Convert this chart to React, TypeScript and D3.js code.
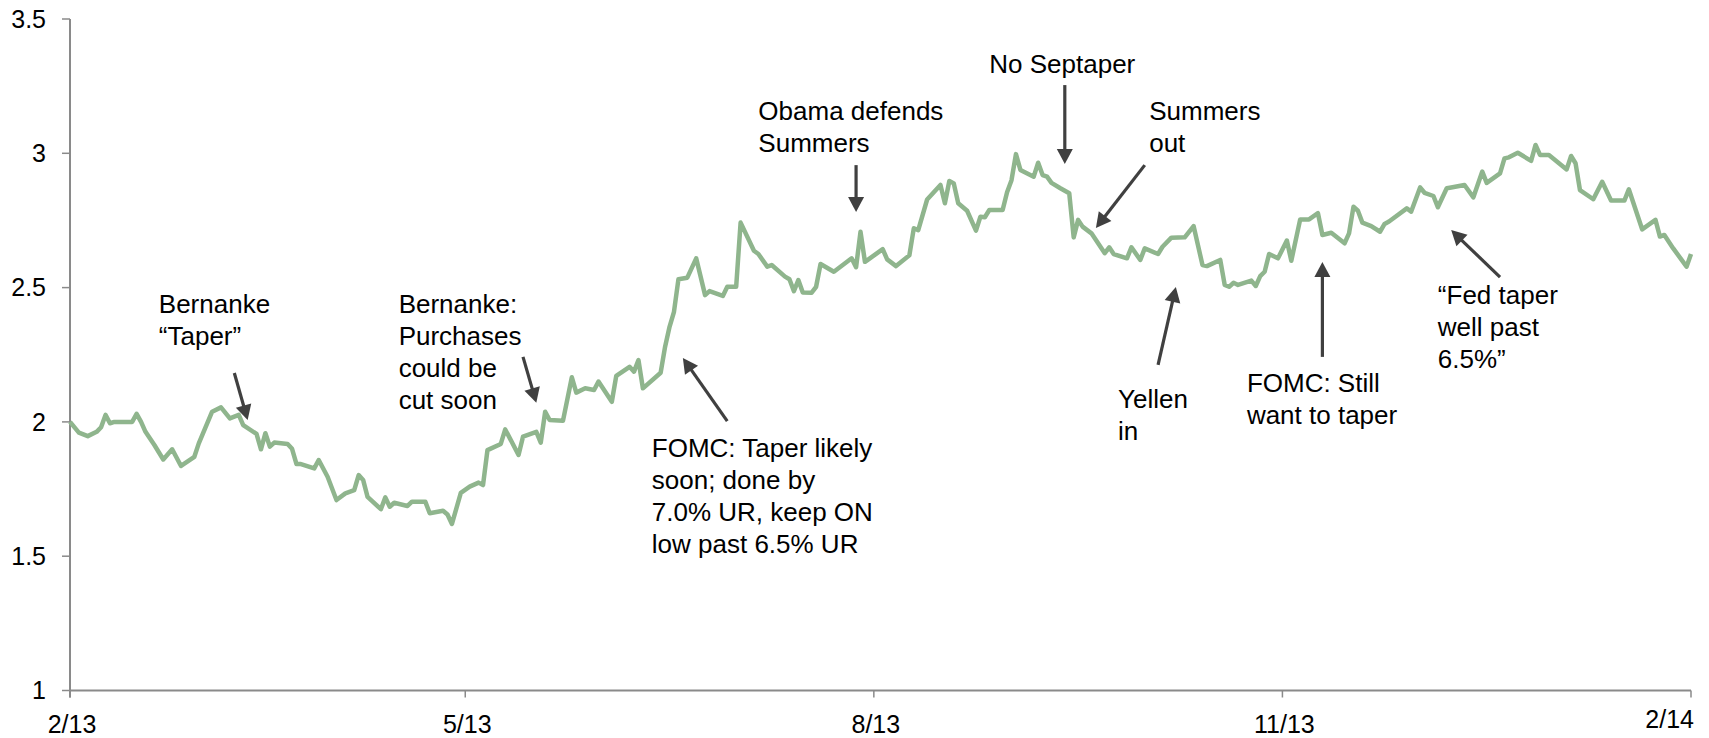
import * as d3 from "d3";
import React, { useEffect, useRef } from "react";

// 10-year yield
const dates = [
  "2013-02-01", "2013-02-03", "2013-02-05", "2013-02-07", "2013-02-08", "2013-02-09", "2013-02-10", "2013-02-11",
  "2013-02-15", "2013-02-16", "2013-02-17", "2013-02-18", "2013-02-20", "2013-02-22", "2013-02-24", "2013-02-26",
  "2013-03-01", "2013-03-02", "2013-03-05", "2013-03-07", "2013-03-09", "2013-03-11", "2013-03-12", "2013-03-15",
  "2013-03-16", "2013-03-17", "2013-03-18", "2013-03-19", "2013-03-22", "2013-03-23", "2013-03-24", "2013-03-25",
  "2013-03-28", "2013-03-29", "2013-03-31", "2013-04-02", "2013-04-04", "2013-04-06", "2013-04-07", "2013-04-08",
  "2013-04-09", "2013-04-12", "2013-04-13", "2013-04-14", "2013-04-15", "2013-04-18", "2013-04-19", "2013-04-22",
  "2013-04-23", "2013-04-26", "2013-04-27", "2013-04-28", "2013-04-30", "2013-05-02", "2013-05-04", "2013-05-05",
  "2013-05-06", "2013-05-09", "2013-05-10", "2013-05-13", "2013-05-14", "2013-05-17", "2013-05-18", "2013-05-19",
  "2013-05-20", "2013-05-23", "2013-05-25", "2013-05-26", "2013-05-28", "2013-05-30", "2013-05-31", "2013-06-03",
  "2013-06-04", "2013-06-07", "2013-06-08", "2013-06-09", "2013-06-10", "2013-06-14", "2013-06-15", "2013-06-16",
  "2013-06-17", "2013-06-18", "2013-06-20", "2013-06-22", "2013-06-24", "2013-06-25", "2013-06-28", "2013-06-29",
  "2013-07-01", "2013-07-02", "2013-07-05", "2013-07-06", "2013-07-08", "2013-07-09", "2013-07-12", "2013-07-13",
  "2013-07-14", "2013-07-15", "2013-07-16", "2013-07-18", "2013-07-19", "2013-07-20", "2013-07-23", "2013-07-27",
  "2013-07-28", "2013-07-29", "2013-07-30", "2013-08-03", "2013-08-04", "2013-08-06", "2013-08-09", "2013-08-10",
  "2013-08-11", "2013-08-13", "2013-08-16", "2013-08-17", "2013-08-18", "2013-08-19", "2013-08-20", "2013-08-22",
  "2013-08-24", "2013-08-25", "2013-08-26", "2013-08-27", "2013-08-30", "2013-08-31", "2013-09-01", "2013-09-02",
  "2013-09-03", "2013-09-06", "2013-09-07", "2013-09-08", "2013-09-09", "2013-09-10", "2013-09-12", "2013-09-14",
  "2013-09-15", "2013-09-16", "2013-09-17", "2013-09-19", "2013-09-22", "2013-09-23", "2013-09-24", "2013-09-27",
  "2013-09-28", "2013-09-30", "2013-10-01", "2013-10-04", "2013-10-05", "2013-10-07", "2013-10-10", "2013-10-12",
  "2013-10-14", "2013-10-15", "2013-10-18", "2013-10-19", "2013-10-20", "2013-10-21", "2013-10-22", "2013-10-25",
  "2013-10-26", "2013-10-27", "2013-10-28", "2013-10-29", "2013-10-31", "2013-11-02", "2013-11-03", "2013-11-05",
  "2013-11-07", "2013-11-09", "2013-11-10", "2013-11-12", "2013-11-15", "2013-11-16", "2013-11-17", "2013-11-18",
  "2013-11-19", "2013-11-21", "2013-11-23", "2013-11-24", "2013-11-25", "2013-11-29", "2013-11-30", "2013-12-02",
  "2013-12-03", "2013-12-05", "2013-12-06", "2013-12-08", "2013-12-09", "2013-12-12", "2013-12-14", "2013-12-16",
  "2013-12-17", "2013-12-20", "2013-12-21", "2013-12-22", "2013-12-24", "2013-12-27", "2013-12-28", "2013-12-29",
  "2013-12-31", "2014-01-04", "2014-01-05", "2014-01-06", "2014-01-07", "2014-01-10", "2014-01-12", "2014-01-14",
  "2014-01-17", "2014-01-18", "2014-01-21", "2014-01-24", "2014-01-25", "2014-01-26", "2014-01-28", "2014-01-31",
  "2014-02-01",
];

const yields = [
  2.0, 1.96, 1.947, 1.963, 1.98, 2.026, 1.995, 2.0,
  2.0, 2.03, 2.0, 1.963, 1.914, 1.86, 1.898, 1.836,
  1.87, 1.92, 2.038, 2.054, 2.013, 2.026, 1.988, 1.955,
  1.898, 1.958, 1.908, 1.923, 1.918, 1.9, 1.843, 1.843,
  1.827, 1.858, 1.796, 1.709, 1.734, 1.746, 1.802, 1.784,
  1.721, 1.675, 1.719, 1.684, 1.699, 1.687, 1.703, 1.703,
  1.66, 1.669, 1.655, 1.62, 1.736, 1.759, 1.774, 1.765,
  1.895, 1.918, 1.972, 1.877, 1.945, 1.963, 1.923, 2.038,
  2.007, 2.004, 2.166, 2.109, 2.125, 2.119, 2.15, 2.075,
  2.171, 2.205, 2.187, 2.23, 2.125, 2.183, 2.28, 2.354,
  2.41, 2.531, 2.537, 2.609, 2.472, 2.487, 2.469, 2.503,
  2.503, 2.742, 2.637, 2.625, 2.578, 2.584, 2.541, 2.531,
  2.487, 2.528, 2.482, 2.481, 2.503, 2.588, 2.559, 2.609,
  2.576, 2.708, 2.596, 2.643, 2.605, 2.58, 2.62, 2.721,
  2.714, 2.828, 2.882, 2.814, 2.897, 2.888, 2.814, 2.786,
  2.712, 2.764, 2.762, 2.789, 2.789, 2.855, 2.9, 2.997,
  2.938, 2.913, 2.965, 2.919, 2.913, 2.89, 2.87, 2.851,
  2.687, 2.752, 2.727, 2.702, 2.628, 2.65, 2.625, 2.609,
  2.65, 2.603, 2.646, 2.625, 2.652, 2.686, 2.687, 2.729,
  2.584, 2.58, 2.603, 2.51, 2.503, 2.518, 2.51, 2.526,
  2.506, 2.543, 2.559, 2.625, 2.609, 2.675, 2.6, 2.754,
  2.754, 2.777, 2.696, 2.704, 2.665, 2.702, 2.801, 2.786,
  2.742, 2.729, 2.708, 2.737, 2.746, 2.795, 2.783, 2.873,
  2.853, 2.841, 2.799, 2.87, 2.873, 2.882, 2.836, 2.932,
  2.89, 2.925, 2.981, 2.985, 3.002, 2.972, 3.031, 2.994,
  2.994, 2.94, 2.99, 2.963, 2.863, 2.829, 2.894, 2.824,
  2.824, 2.866, 2.717, 2.752, 2.69, 2.696, 2.646, 2.578,
  2.625,
];

const xTickDates = ["2013-02-01", "2013-05-01", "2013-08-01", "2013-11-01", "2014-02-01"];
const yTicks = [1, 1.5, 2, 2.5, 3, 3.5];

// annotations: text lines, where the text starts, and arrow tail -> tip (date, yield)
interface Note {
  lines: string[];
  at: [string, number];
  from: [string, number];
  to: [string, number];
}

const notes: Note[] = [
  { lines: ["Bernanke", "\u201cTaper\u201d"], at: ["2013-02-21", 2.405], from: ["2013-03-10", 2.182], to: ["2013-03-13", 2.007] },
  { lines: ["Bernanke:", "Purchases", "could be", "cut soon"], at: ["2013-04-16", 2.405], from: ["2013-05-14", 2.242], to: ["2013-05-17", 2.071] },
  { lines: ["FOMC: Taper likely", "soon; done by", "7.0% UR, keep ON", "low past 6.5% UR"], at: ["2013-06-12", 1.869], from: ["2013-06-29", 2.003], to: ["2013-06-19", 2.238] },
  { lines: ["Obama defends", "Summers"], at: ["2013-07-06", 3.124], from: ["2013-07-28", 2.956], to: ["2013-07-28", 2.781] },
  { lines: ["No Septaper"], at: ["2013-08-27", 3.299], from: ["2013-09-13", 3.254], to: ["2013-09-13", 2.96] },
  { lines: ["Summers", "out"], at: ["2013-10-02", 3.124], from: ["2013-10-01", 2.956], to: ["2013-09-20", 2.722] },
  { lines: ["Yellen", "in"], at: ["2013-09-25", 2.051], from: ["2013-10-04", 2.212], to: ["2013-10-08", 2.502] },
  { lines: ["FOMC: Still", "want to taper"], at: ["2013-10-24", 2.111], from: ["2013-11-10", 2.242], to: ["2013-11-10", 2.595] },
  { lines: ["\u201cFed taper", "well past", "6.5%\u201d"], at: ["2013-12-06", 2.439], from: ["2013-12-20", 2.539], to: ["2013-12-09", 2.714] },
];

const App: React.FC = () => {
  const ref = useRef<SVGSVGElement>(null);

  useEffect(() => {
    const width = 1709;
    const height = 738;
    const font = "Arial, 'Liberation Sans', Helvetica, sans-serif";
    const axisColor = "#8a8a8a";
    const arrowColor = "#404040";

    const parse = d3.timeParse("%Y-%m-%d");
    const fmt = d3.timeFormat("%-m/%y");

    const svg = d3.select(ref.current);
    svg.selectAll("*").remove();
    svg.attr("width", width).attr("height", height);

    const x = d3.scaleTime()
      .domain([parse("2013-02-01")!, parse("2014-02-01")!])
      .range([70, 1691]);

    const y = d3.scaleLinear()
      .domain([1, 3.5])
      .range([690.5, 19]);

    // y axis
    svg.append("line")
      .attr("x1", x.range()[0]).attr("x2", x.range()[0])
      .attr("y1", y(3.5)).attr("y2", y(1) + 7)
      .attr("stroke", axisColor).attr("stroke-width", 2);

    yTicks.forEach((t) => {
      svg.append("line")
        .attr("x1", x.range()[0] - 8).attr("x2", x.range()[0])
        .attr("y1", y(t)).attr("y2", y(t))
        .attr("stroke", axisColor).attr("stroke-width", 1.5);
      svg.append("text")
        .attr("x", 46)
        .attr("y", y(t))
        .attr("dy", "0.35em")
        .attr("text-anchor", "end")
        .style("font-family", font)
        .style("font-size", "25px")
        .attr("fill", "#000")
        .text(String(t));
    });

    // x axis
    svg.append("line")
      .attr("x1", x.range()[0]).attr("x2", x.range()[1])
      .attr("y1", y(1)).attr("y2", y(1))
      .attr("stroke", axisColor).attr("stroke-width", 2);

    xTickDates.forEach((s, i) => {
      const d = parse(s)!;
      const last = i === xTickDates.length - 1;
      svg.append("line")
        .attr("x1", x(d)).attr("x2", x(d))
        .attr("y1", y(1)).attr("y2", y(1) + 7)
        .attr("stroke", axisColor).attr("stroke-width", 1.5);
      svg.append("text")
        .attr("x", last ? x(d) + 3 : x(d) + 2)
        .attr("y", last ? y(1) + 37 : y(1) + 42)
        .attr("text-anchor", last ? "end" : "middle")
        .style("font-family", font)
        .style("font-size", "25px")
        .attr("fill", "#000")
        .text(fmt(d));
    });

    // yield line
    const points: [Date, number][] = dates.map((s, i) => [parse(s)!, yields[i]]);
    const line = d3.line<[Date, number]>()
      .x((d) => x(d[0]))
      .y((d) => y(d[1]));

    svg.append("path")
      .datum(points)
      .attr("d", line)
      .attr("fill", "none")
      .attr("stroke", "#8fb58d")
      .attr("stroke-width", 4.5)
      .attr("stroke-linejoin", "round");

    // annotations
    notes.forEach((n) => {
      const tx = x(parse(n.at[0])!);
      const ty = y(n.at[1]);
      const text = svg.append("text")
        .style("font-family", font)
        .style("font-size", "26px")
        .attr("fill", "#000");
      n.lines.forEach((l, i) => {
        text.append("tspan")
          .attr("x", tx)
          .attr("y", ty + i * 32)
          .text(l);
      });

      const x1 = x(parse(n.from[0])!);
      const y1 = y(n.from[1]);
      const x2 = x(parse(n.to[0])!);
      const y2 = y(n.to[1]);
      const len = Math.hypot(x2 - x1, y2 - y1);
      const ux = (x2 - x1) / len;
      const uy = (y2 - y1) / len;
      const head = 15;
      const half = 8;
      const bx = x2 - ux * head;
      const by = y2 - uy * head;

      svg.append("line")
        .attr("x1", x1).attr("y1", y1)
        .attr("x2", bx + ux).attr("y2", by + uy)
        .attr("stroke", arrowColor)
        .attr("stroke-width", 3.2);

      svg.append("path")
        .attr("d", `M${x2},${y2}L${bx - uy * half},${by + ux * half}L${bx + uy * half},${by - ux * half}Z`)
        .attr("fill", arrowColor);
    });
  }, []);

  return (
    <svg
      ref={ref}
      style={{ position: "absolute", left: 0, top: 0, display: "block", background: "#fff" }}
    ></svg>
  );
};

export default App;
